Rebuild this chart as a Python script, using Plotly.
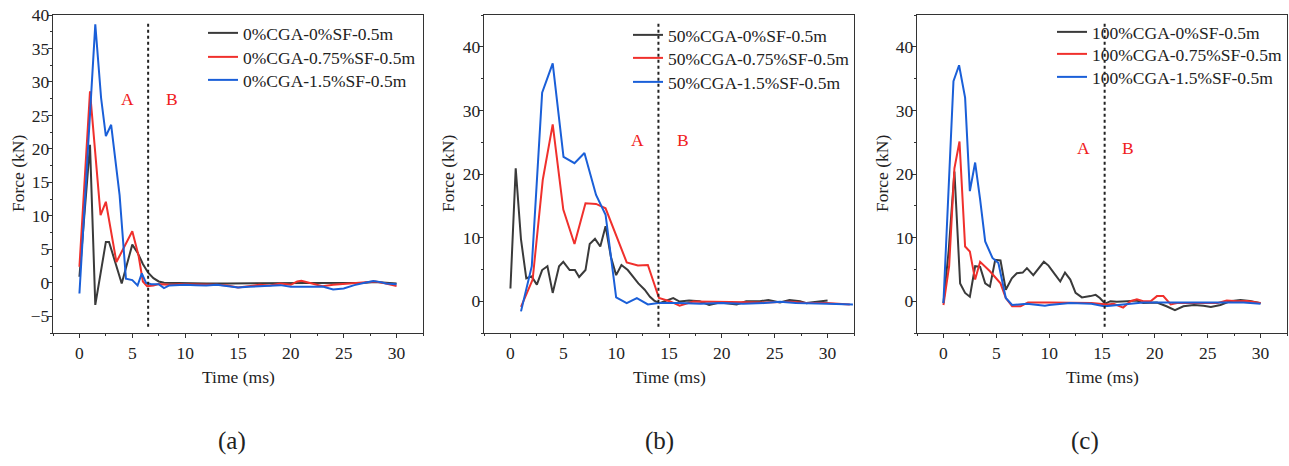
import plotly.graph_objects as go

# ---------------- data ----------------
# Panel (a): 0%CGA
a_t_black = [0, 0.5, 1.0, 1.5, 2.5, 2.8, 4.0, 5.0, 5.5, 6.0, 6.5, 7.0, 7.5, 8.0, 10, 12, 14, 16, 18, 20, 22, 24, 26, 27, 28, 29, 30]
a_f_black = [0.9, 10.5, 20.6, -3.3, 6.1, 6.1, -0.1, 5.7, 4.5, 2.8, 1.5, 0.7, 0.2, 0.0, -0.1, -0.1, -0.1, -0.1, -0.1, -0.1, -0.1, -0.1, -0.1, 0.0, 0.1, 0.0, -0.1]
a_t_red = [0, 1.0, 2.0, 2.5, 3.5, 5.0, 5.6, 6.0, 6.4, 7.0, 7.5, 8.5, 9.5, 10, 11, 12, 13, 14, 15, 16, 17, 18, 19, 20, 20.6, 21, 21.5, 22, 23, 24, 25, 26, 27, 28, 29, 30]
a_f_red = [2.4, 28.6, 10.1, 12.1, 3.1, 7.7, 4.0, 0.2, -0.5, -0.4, -0.2, -0.3, -0.2, -0.2, -0.3, -0.2, -0.3, -0.4, -0.7, -0.5, -0.3, -0.4, -0.1, -0.3, 0.2, 0.3, 0.1, -0.2, -0.5, -0.3, -0.2, 0.0, 0.1, 0.2, -0.1, -0.5]
a_t_blue = [0, 1.5, 2.05, 2.5, 3.0, 3.8, 4.4, 5.0, 5.5, 5.9, 6.3, 6.8, 7.5, 8.0, 8.5, 9, 10, 11, 12, 13, 14, 15, 16, 17, 18, 19, 20, 21, 22, 23, 24, 25, 26, 27, 27.8, 28.5, 29, 30]
a_f_blue = [-1.6, 38.6, 27.6, 21.9, 23.6, 13.1, 0.6, 0.4, -0.4, 1.4, 0.0, -0.2, -0.2, -0.8, -0.4, -0.35, -0.3, -0.35, -0.4, -0.3, -0.45, -0.7, -0.6, -0.5, -0.4, -0.35, -0.6, -0.65, -0.6, -0.55, -1.0, -0.85, -0.35, 0.0, 0.25, 0.1, -0.1, -0.2]

# Panel (b): 50%CGA
b_t_black = [0, 0.5, 1.0, 1.5, 2.0, 2.5, 3.0, 3.5, 4.0, 4.6, 5.0, 5.6, 6.1, 6.5, 7.1, 7.5, 8.0, 8.5, 9.0, 9.5, 10.0, 10.5, 11.1, 11.6, 12.1, 12.7, 13.2, 13.6, 14.1, 15.4, 16, 16.9, 17.9, 18.8, 19.8, 21.4, 22.3, 23.6, 24.4, 25.5, 26.4, 27.4, 28, 29, 30]
b_f_black = [2.0, 20.9, 9.7, 3.6, 3.9, 2.6, 4.9, 5.5, 1.3, 5.5, 6.2, 4.9, 4.9, 3.8, 4.9, 9.0, 9.8, 8.6, 11.8, 7.0, 4.1, 5.7, 4.9, 3.9, 2.8, 1.8, 0.7, 0.1, -0.3, 0.5, -0.05, 0.1, 0.0, -0.6, -0.2, -0.5, 0.0, 0.0, 0.2, -0.2, 0.2, 0.0, -0.3, -0.1, 0.1]
b_t_red = [1.0, 2.1, 3.06, 4.0, 5.0, 6.06, 7.1, 8.1, 9.0, 10.0, 11.0, 12.06, 13.0, 14.05, 15.06, 16, 17.3, 19.2, 21.7, 24, 26.5, 28, 29.9, 32.1]
b_f_red = [-0.9, 3.4, 19.1, 27.8, 14.4, 9.0, 15.4, 15.3, 14.6, 10.2, 6.1, 5.6, 5.7, 0.5, 0.0, -0.7, -0.05, -0.1, -0.2, -0.2, -0.1, -0.3, -0.3, -0.5]
b_t_blue = [1.0, 2.02, 3.0, 4.0, 5.02, 6.06, 7.0, 8.1, 9.0, 10.0, 11.0, 11.96, 13.0, 14.0, 16, 18, 20, 22, 24, 25.5, 27, 28.5, 30, 32.4]
b_f_blue = [-1.6, 5.5, 32.8, 37.4, 22.7, 21.7, 23.3, 16.7, 13.6, 0.6, -0.3, 0.5, -0.5, -0.3, -0.3, -0.4, -0.3, -0.4, -0.3, -0.1, -0.3, -0.4, -0.4, -0.5]

# Panel (c): 100%CGA
c_t_black = [0, 0.5, 1.04, 1.58, 2.05, 2.5, 3.0, 3.47, 3.95, 4.4, 4.9, 5.4, 5.9, 6.47, 6.94, 7.5, 7.9, 8.5, 9.5, 9.94, 10.6, 11.05, 11.5, 12.0, 12.5, 13.1, 13.9, 14.4, 14.8, 15.3, 15.8, 16.4, 17.4, 18.3, 18.9, 20.2, 21.1, 21.9, 22.7, 23.7, 24.6, 25.3, 26.2, 27.1, 28.1, 29, 30]
c_f_black = [-0.3, 8.0, 20.4, 2.8, 1.3, 0.7, 5.5, 5.4, 2.8, 2.3, 6.5, 6.4, 1.8, 3.6, 4.4, 4.5, 5.2, 4.1, 6.2, 5.6, 4.1, 3.1, 4.5, 3.4, 1.3, 0.6, 0.8, 1.0, 0.5, -0.4, 0.0, -0.1, 0.0, 0.1, -0.3, -0.2, -0.8, -1.4, -0.8, -0.6, -0.7, -0.9, -0.6, 0.0, 0.2, 0.05, -0.3]
c_t_red = [0, 0.54, 1.04, 1.52, 2.05, 2.5, 3.0, 3.47, 4.4, 5.4, 5.9, 6.5, 7.3, 8, 10, 12, 14, 15.5, 16.1, 17.0, 17.7, 18.3, 18.9, 19.6, 20.2, 20.8, 21.5, 22.1, 23.4, 24.6, 25.9, 26.8, 27.8, 28.7, 30]
c_f_red = [-0.6, 5.5, 20.9, 25.1, 8.6, 7.8, 3.4, 6.2, 4.7, 2.8, 0.5, -0.8, -0.8, -0.2, -0.2, -0.2, -0.3, -0.5, -0.4, -1.0, 0.0, 0.3, 0.0, 0.0, 0.8, 0.8, -0.5, -0.3, -0.3, -0.4, -0.3, 0.1, 0.0, 0.05, -0.3]
c_t_blue = [0, 0.95, 1.48, 2.05, 2.5, 3.0, 3.47, 3.95, 4.64, 5.2, 5.9, 6.5, 7.9, 9.6, 10, 12, 14, 15.2, 15.8, 17, 18.9, 20.2, 21.5, 23, 24.3, 25.3, 26.8, 28.4, 30]
c_f_blue = [-0.3, 34.6, 37.1, 32.0, 17.3, 21.8, 16.0, 9.4, 6.8, 6.0, 0.5, -0.6, -0.4, -0.7, -0.6, -0.3, -0.4, -0.8, -0.7, -0.5, -0.2, -0.2, -0.2, -0.2, -0.2, -0.3, -0.2, -0.2, -0.4]

names_a = ["0%CGA-0%SF-0.5m", "0%CGA-0.75%SF-0.5m", "0%CGA-1.5%SF-0.5m"]
names_b = ["50%CGA-0%SF-0.5m", "50%CGA-0.75%SF-0.5m", "50%CGA-1.5%SF-0.5m"]
names_c = ["100%CGA-0%SF-0.5m", "100%CGA-0.75%SF-0.5m", "100%CGA-1.5%SF-0.5m"]

divider_x = [6.5, 14.0, 15.25]
label_A_x = [4.5, 12.06, 13.26]
label_B_x = [8.8, 16.3, 17.5]
label_y = [27.5, 25.4, 24.1]
captions = ["(a)", "(b)", "(c)"]

# ---------------- style ----------------
FONT = "Liberation Serif"
COLORS = ["#3a3a3a", "#f0302c", "#1a5fd8"]
W, H = 1289, 466

def px_x(p):
    return p / W

def px_y(p):
    return 1 - p / H

x_domains = [[px_x(53), px_x(423)], [px_x(484), px_x(854)], [px_x(917), px_x(1287)]]
y_domain = [px_y(333), px_y(15)]

fig = go.Figure()

panels = [
    (a_t_black, a_f_black, a_t_red, a_f_red, a_t_blue, a_f_blue, names_a),
    (b_t_black, b_f_black, b_t_red, b_f_red, b_t_blue, b_f_blue, names_b),
    (c_t_black, c_f_black, c_t_red, c_f_red, c_t_blue, c_f_blue, names_c),
]

# one legend box per entry so that rows sit where the reference puts them
legend_text_x = [243, 668, 1092]
legend_rows = [[33, 57, 80], [35, 58, 82], [32, 54, 77]]

layout = dict(
    width=W, height=H, margin=dict(l=0, r=0, t=0, b=0),
    paper_bgcolor="white", plot_bgcolor="white",
    font=dict(family=FONT, size=17, color="#222222"),
    showlegend=True,
)

k = 0
for i, (tk, fk, tr, fr, tb, fb, nm) in enumerate(panels):
    xa = "x" if i == 0 else f"x{i+1}"
    ya = "y" if i == 0 else f"y{i+1}"
    series = [(tk, fk, COLORS[0], nm[0]), (tr, fr, COLORS[1], nm[1]), (tb, fb, COLORS[2], nm[2])]
    for j, (t, f, c, n) in enumerate(series):
        k += 1
        lid = "legend" if k == 1 else f"legend{k}"
        fig.add_trace(go.Scatter(x=t, y=f, mode="lines", name=n, showlegend=True,
                                 line=dict(color=c, width=2),
                                 xaxis=xa, yaxis=ya, legend=lid))
        layout[lid] = dict(x=px_x(legend_text_x[i] - 40), y=px_y(legend_rows[i][j]),
                           xanchor="left", yanchor="middle",
                           bgcolor="rgba(0,0,0,0)", borderwidth=0,
                           font=dict(family=FONT, size=17.5, color="#222222"),
                           itemclick=False, itemdoubleclick=False, visible=True)

axis_common = dict(
    showline=True, linecolor="#333333", linewidth=1.3, mirror=True,
    ticks="outside", ticklen=4, tickwidth=1.2, tickcolor="#333333",
    showgrid=False, zeroline=False,
    tickfont=dict(family=FONT, size=17.5, color="#222222"),
    automargin=False,
)

y_ranges = [[-7.5, 40], [-5, 45], [-5, 45]]
y_dticks = [5, 10, 10]
for i in range(3):
    sx = "xaxis" if i == 0 else f"xaxis{i+1}"
    sy = "yaxis" if i == 0 else f"yaxis{i+1}"
    ax_x = "x" if i == 0 else f"x{i+1}"
    ax_y = "y" if i == 0 else f"y{i+1}"
    layout[sx] = dict(axis_common, domain=x_domains[i], range=[-2.5, 32.5],
                      tick0=0, dtick=5, anchor=ax_y,
                      minor=dict(ticks="outside", ticklen=2, dtick=2.5, tick0=0, tickcolor="#333333"))
    layout[sy] = dict(axis_common, domain=y_domain, range=y_ranges[i],
                      tick0=0, dtick=y_dticks[i], anchor=ax_x, ticklabelstandoff=-5,
                      minor=dict(ticks="outside", ticklen=2, dtick=y_dticks[i] / 2, tick0=0, tickcolor="#333333"))

fig.update_layout(**layout)

annotations = []
shapes = []
ytitle_x = [18, 448, 882]
caption_x = [232, 660, 1085]
for i in range(3):
    ax_x = "x" if i == 0 else f"x{i+1}"
    ax_y = "y" if i == 0 else f"y{i+1}"
    shapes.append(dict(type="line", xref=ax_x, yref=f"{ax_y} domain",
                       x0=divider_x[i], x1=divider_x[i], y0=0.02, y1=0.98,
                       line=dict(color="#222222", width=2, dash="dot")))
    for txt, lx in (("A", label_A_x[i]), ("B", label_B_x[i])):
        annotations.append(dict(x=lx, y=label_y[i], xref=ax_x, yref=ax_y,
                                text=txt, showarrow=False, xanchor="center", yanchor="middle",
                                font=dict(family=FONT, size=17.5, color="#f02020")))
    cx = (x_domains[i][0] + x_domains[i][1]) / 2
    annotations.append(dict(x=cx, y=px_y(377), xref="paper", yref="paper",
                            text="Time (ms)", showarrow=False, xanchor="center", yanchor="middle",
                            font=dict(family=FONT, size=17.5, color="#222222")))
    annotations.append(dict(x=px_x(ytitle_x[i]), y=px_y(174), xref="paper", yref="paper",
                            text="Force (kN)", textangle=-90, showarrow=False,
                            xanchor="center", yanchor="middle",
                            font=dict(family=FONT, size=17.5, color="#222222")))
    annotations.append(dict(x=px_x(caption_x[i]), y=px_y(441), xref="paper", yref="paper",
                            text=captions[i], showarrow=False, xanchor="center", yanchor="middle",
                            font=dict(family=FONT, size=25, color="#222222")))

fig.update_layout(annotations=annotations, shapes=shapes)
fig.write_html("out.html")
